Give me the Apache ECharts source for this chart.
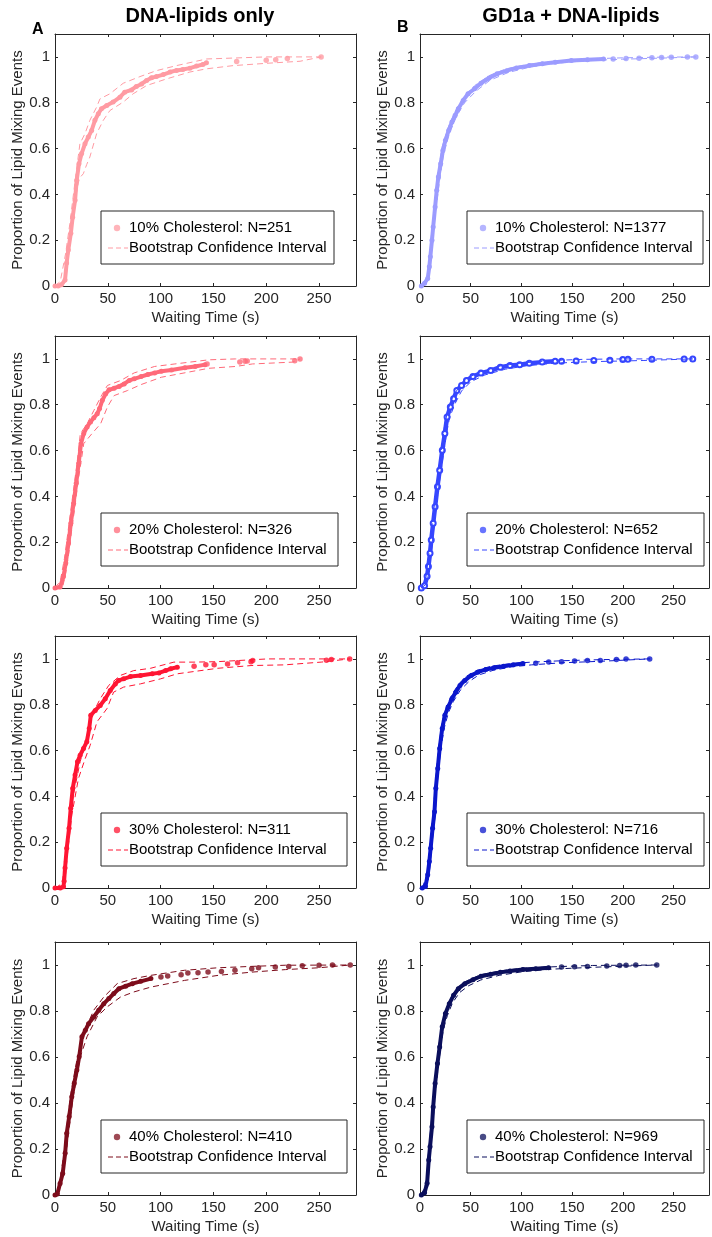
<!DOCTYPE html>
<html>
<head>
<meta charset="utf-8">
<title>Lipid mixing waiting times</title>
<script src="https://cdn.jsdelivr.net/npm/echarts@6/dist/echarts.min.js"></script>
<style>
  html, body { margin: 0; padding: 0; background: #fff; }
  #box { width: 712px; height: 1237px; }
</style>
</head>
<body>
<div id="box"></div>
<script>
var timeMax = 285;

// DNA-lipids only, 10% cholesterol (N=251)
var a10Curve = [[0,0],[3,0],[6,0.005],[9.5,0.026],[11,0.1],[12.6,0.157],[15,0.23],[16.7,0.3],[19,0.374],[20.5,0.46],[22.7,0.534],[25.2,0.578],[28.4,0.621],[31.5,0.65],[34.7,0.679],[37.8,0.723],[41,0.752],[44,0.774],[49,0.788],[55,0.803],[61.5,0.824],[66,0.846],[72.5,0.856],[77,0.871],[82,0.882],[86.7,0.897],[91.4,0.909],[96,0.914],[102.5,0.923],[109,0.934],[115,0.941],[121,0.945],[127.7,0.951],[134,0.96],[140,0.967],[143.4,0.974]];
var a10Tail = [[172,0.98],[200,0.985],[209,0.988],[220,0.993],[252,1.0]];
var a10Upper = [[0,0],[5,0.02],[10,0.14],[14,0.27],[18,0.42],[21,0.53],[23.6,0.621],[28.4,0.665],[33,0.723],[39.4,0.781],[42.6,0.817],[52,0.839],[64.6,0.885],[80.4,0.914],[96,0.94],[115,0.962],[143.4,0.991],[168.7,0.995],[200,1.0],[252,1.0]];
var a10Lower = [[0,0],[8,0],[11,0.06],[14,0.18],[17,0.3],[20,0.4],[23,0.47],[26.8,0.49],[30,0.53],[33,0.563],[39.4,0.665],[45.7,0.723],[52,0.766],[64.6,0.803],[74,0.839],[86.7,0.875],[105.6,0.904],[127.7,0.934],[143.4,0.948],[168.7,0.962],[200,0.972],[232,0.981],[252,1.0]];

// DNA-lipids only, 20% cholesterol (N=326)
var a20Curve = [[0,0],[4.8,0.004],[8,0.05],[10.2,0.109],[12.8,0.196],[15,0.283],[17.6,0.37],[20.1,0.457],[22.4,0.543],[24.6,0.63],[27.2,0.674],[30.4,0.703],[33.6,0.725],[36.8,0.743],[40,0.761],[42.2,0.783],[44.8,0.819],[48,0.848],[51.2,0.865],[56,0.872],[60.7,0.88],[65.5,0.891],[70.3,0.906],[75,0.913],[81.5,0.923],[87.9,0.932],[94.3,0.939],[100.7,0.946],[110.3,0.952],[123,0.961],[132.7,0.967],[142,0.975]];
var a20Tail = [[144,0.978],[175,0.986],[180,0.99],[182,0.991],[227,0.992],[232,1.0]];
var a20Upper = [[0,0],[5,0.03],[9,0.13],[13,0.27],[17,0.41],[21,0.55],[24,0.674],[30.4,0.717],[36.8,0.775],[43.2,0.833],[49.6,0.884],[62.3,0.906],[75,0.939],[94.3,0.967],[113.5,0.978],[145.5,0.996],[171,1.0],[232,1.0]];
var a20Lower = [[0,0],[7,0],[10,0.06],[13,0.15],[16,0.26],[19,0.36],[22,0.47],[25,0.56],[27.2,0.63],[35,0.674],[43.2,0.717],[49.6,0.79],[56,0.84],[68.7,0.862],[81.5,0.888],[100.7,0.92],[126,0.942],[145.5,0.959],[171,0.967],[187,0.978],[225,0.986],[232,1.0]];

// DNA-lipids only, 30% cholesterol (N=311)
var a30Curve = [[0,0],[5,0],[8,0.005],[8.6,0.029],[9.5,0.087],[11.1,0.174],[13.3,0.261],[14.9,0.348],[16.8,0.435],[19,0.493],[21.3,0.551],[23.8,0.58],[27,0.609],[30.1,0.638],[32.4,0.696],[33.9,0.754],[38.1,0.775],[42.8,0.797],[47.6,0.826],[52.3,0.862],[57.1,0.891],[60.3,0.906],[65,0.913],[71.4,0.923],[80.9,0.928],[92,0.935],[98.4,0.939],[104.7,0.949],[109.5,0.957],[115.8,0.964]];
var a30Tail = [[131.7,0.968],[142.8,0.974],[150.7,0.975],[163.4,0.978],[172.9,0.983],[185.6,0.988],[187.2,0.993],[257,0.994],[261.7,0.997],[279,1.0]];
var a30Upper = [[0,0],[7,0.02],[9,0.12],[12.7,0.275],[17.4,0.406],[23.8,0.551],[30.1,0.652],[34.9,0.754],[42.8,0.826],[50.8,0.884],[61.9,0.928],[74.6,0.949],[90.4,0.959],[112.6,0.986],[131.7,0.986],[153.9,0.988],[201.5,1.0],[279,1.0]];
var a30Lower = [[0,0],[8,0],[10,0.06],[12.5,0.18],[15.9,0.319],[22.2,0.478],[28.6,0.565],[33.3,0.623],[39.7,0.725],[49.2,0.783],[55.5,0.855],[65,0.877],[80.9,0.891],[100,0.913],[115.8,0.935],[153.9,0.959],[185.6,0.971],[217.3,0.974],[252,0.986],[279,1.0]];

// DNA-lipids only, 40% cholesterol (N=410)
var a40Curve = [[0,0],[2.2,0.004],[4.8,0.05],[7.3,0.094],[9.6,0.181],[11.1,0.268],[13.4,0.34],[15.9,0.427],[18.2,0.485],[20.7,0.543],[22.9,0.601],[25.5,0.688],[28.7,0.716],[31.8,0.745],[36.6,0.774],[41.4,0.803],[46.2,0.832],[51,0.854],[55.7,0.876],[60.5,0.897],[66.9,0.908],[73.2,0.919],[81.2,0.929],[90.8,0.941]];
var a40Tail = [[100.3,0.948],[106.7,0.952],[119.4,0.958],[125.8,0.965],[135.4,0.966],[144.9,0.97],[157.6,0.972],[170.4,0.977],[186.3,0.984],[192.7,0.988],[208.6,0.991],[221.3,0.994],[234.1,0.997],[250,0.999],[262.7,1.0],[279.6,1.0]];
var a40Upper = [[0,0],[3,0.03],[6,0.1],[9,0.2],[12,0.33],[15,0.44],[18,0.52],[20.7,0.586],[27,0.702],[36.6,0.803],[46.2,0.861],[58.9,0.919],[74.8,0.941],[90.8,0.955],[122.6,0.977],[154.5,0.988],[186.3,0.994],[218.2,0.999],[279.6,1.0]];
var a40Lower = [[0,0],[4,0.02],[8,0.1],[11,0.2],[14,0.31],[17,0.42],[20,0.5],[23.9,0.6],[30.3,0.688],[39.8,0.774],[49.4,0.818],[62.1,0.861],[74.8,0.883],[90.8,0.904],[122.6,0.933],[154.5,0.955],[186.3,0.969],[218.2,0.98],[250,0.988],[279.6,1.0]];

// GD1a + DNA-lipids, 10% cholesterol (N=1377)
var b10Curve = [[1.3,0],[4.5,0.012],[7.6,0.033],[9.2,0.084],[10.2,0.128],[11.8,0.2],[13,0.258],[14.9,0.345],[16.5,0.418],[18.1,0.476],[20.4,0.534],[22.6,0.592],[25.1,0.636],[28.3,0.679],[31.5,0.716],[34.7,0.745],[37.8,0.774],[42.6,0.81],[47.4,0.839],[53.8,0.861],[60.1,0.885],[68.1,0.908],[76,0.926],[85.6,0.94],[95.1,0.952],[107.8,0.962],[120.5,0.97],[133.3,0.977],[149.2,0.984],[165.1,0.988],[181,0.991]];
var b10Tail = [[190.5,0.991],[203.2,0.993],[216,0.994],[228.7,0.996],[238.2,0.997],[247.8,0.999],[263.7,1.0],[272,1.0]];
var b10Upper = [[1.3,0],[7,0.03],[9,0.1],[11,0.21],[13,0.29],[15,0.37],[18,0.5],[22,0.61],[28,0.695],[35,0.765],[43,0.825],[54,0.875],[68,0.918],[85,0.948],[107,0.968],[133,0.981],[165,0.991],[200,0.996],[240,0.999],[272,1.0]];
var b10Lower = [[1.3,0],[8,0.02],[10,0.09],[12.5,0.2],[15,0.31],[19,0.45],[23,0.57],[29,0.665],[36,0.74],[44,0.8],[55,0.85],[69,0.898],[87,0.932],[108,0.955],[133,0.972],[165,0.984],[200,0.99],[240,0.995],[272,1.0]];

// GD1a + DNA-lipids, 20% cholesterol (N=652)
var b20Curve = [[1.3,0],[4.5,0.01],[7,0.051],[8.3,0.094],[9.9,0.152],[11.1,0.21],[13,0.283],[14.9,0.355],[17.2,0.442],[19.4,0.514],[22,0.601],[24.5,0.674],[26.7,0.746],[29.9,0.79],[33.1,0.826],[36.3,0.862],[41,0.884],[45.8,0.906],[52.2,0.923],[60.1,0.938],[69.7,0.949],[79.2,0.964],[88.7,0.971],[98.3,0.975],[107.8,0.981],[120.5,0.986],[133.3,0.99]];
var b20Tail = [[139.6,0.99],[154,0.991],[171.4,0.993],[187.3,0.994],[200,0.997],[205,0.998],[228.7,0.998],[260.5,1.0],[269,1.0]];
var b20Upper = [[1.3,0],[6,0.05],[8,0.12],[10,0.2],[12.5,0.3],[15,0.39],[18,0.5],[21,0.6],[24,0.7],[27,0.77],[32,0.83],[38,0.875],[46,0.915],[60,0.945],[80,0.97],[100,0.982],[130,0.993],[160,0.998],[200,1.0],[269,1.0]];
var b20Lower = [[1.3,0],[7,0.02],[9,0.08],[11.5,0.17],[14,0.28],[17,0.39],[20,0.49],[23,0.58],[26,0.67],[29,0.74],[34,0.8],[41,0.86],[50,0.9],[64,0.93],[84,0.955],[105,0.97],[135,0.982],[170,0.988],[220,0.993],[269,1.0]];

// GD1a + DNA-lipids, 30% cholesterol (N=716)
var b30Curve = [[2.2,0],[5.4,0.007],[7.6,0.058],[9.2,0.116],[10.5,0.174],[12.4,0.261],[14.3,0.333],[15.6,0.435],[17.5,0.522],[19.4,0.609],[21.9,0.696],[24.5,0.754],[27.7,0.79],[31.5,0.826],[35.3,0.855],[39.4,0.884],[44.2,0.906],[50.6,0.928],[57,0.942],[64.9,0.954],[72.8,0.961],[82.4,0.968],[91.9,0.974],[101.5,0.98]];
var b30Tail = [[114.2,0.981],[126.9,0.986],[139.6,0.988],[152.4,0.991],[165.1,0.993],[177.8,0.993],[193.7,0.997],[203.2,1.0],[226.5,1.0]];
var b30Upper = [[2.2,0],[7,0.06],[9,0.14],[11,0.24],[13,0.33],[15,0.44],[17,0.55],[19.5,0.65],[22,0.73],[26,0.79],[31,0.84],[38,0.89],[46,0.925],[56,0.95],[70,0.968],[90,0.98],[110,0.986],[140,0.992],[180,0.997],[226.5,1.0]];
var b30Lower = [[2.2,0],[8,0.03],[10,0.1],[12,0.2],[14.5,0.3],[16.5,0.43],[18.5,0.53],[21,0.62],[24,0.7],[28,0.765],[33,0.815],[40,0.865],[48,0.9],[58,0.93],[72,0.95],[90,0.965],[110,0.974],[140,0.983],[180,0.99],[226.5,1.0]];

// GD1a + DNA-lipids, 40% cholesterol (N=969)
var b40Curve = [[1.3,0],[4.5,0.01],[7,0.051],[8.6,0.152],[9.9,0.21],[11.8,0.297],[13,0.383],[14.9,0.485],[17.2,0.572],[19.4,0.644],[21.9,0.731],[25.1,0.789],[28.9,0.832],[33.1,0.868],[37.8,0.897],[44.2,0.919],[52.2,0.936],[60.1,0.951],[69.7,0.96],[79.2,0.968],[88.7,0.974],[101.5,0.98],[114.2,0.984],[126.9,0.988]];
var b40Tail = [[139.6,0.991],[152.4,0.992],[165.1,0.994],[184.2,0.996],[196.9,0.998],[203.2,0.999],[212.8,1.0],[233.5,1.0]];
var b40Upper = [[1.3,0],[6,0.05],[8,0.16],[10,0.26],[12,0.36],[14,0.47],[16.5,0.57],[19,0.66],[22,0.75],[26,0.81],[31,0.86],[38,0.905],[47,0.933],[60,0.958],[80,0.975],[100,0.985],[130,0.992],[170,0.998],[233.5,1.0]];
var b40Lower = [[1.3,0],[7.5,0.03],[9,0.12],[11,0.22],[13,0.33],[15,0.44],[17.5,0.54],[20,0.63],[23,0.72],[27,0.78],[32,0.835],[39,0.88],[48,0.91],[60,0.935],[78,0.955],[100,0.97],[130,0.982],[170,0.99],[233.5,1.0]];

// panel order: column A (10..40%), then column B (10..40%)
var panelLabels = ["10% Cholesterol: N=251", "20% Cholesterol: N=326", "30% Cholesterol: N=311", "40% Cholesterol: N=410",
  "10% Cholesterol: N=1377", "20% Cholesterol: N=652", "30% Cholesterol: N=716", "40% Cholesterol: N=969"];
var panelCurves = [a10Curve, a20Curve, a30Curve, a40Curve, b10Curve, b20Curve, b30Curve, b40Curve];
var panelTails = [a10Tail, a20Tail, a30Tail, a40Tail, b10Tail, b20Tail, b30Tail, b40Tail];
var panelUpper = [a10Upper, a20Upper, a30Upper, a40Upper, b10Upper, b20Upper, b30Upper, b40Upper];
var panelLower = [a10Lower, a20Lower, a30Lower, a40Lower, b10Lower, b20Lower, b30Lower, b40Lower];
var columnTitles = ["DNA-lipids only", "GD1a + DNA-lipids"];

var panelColors = ["#ff9ba3", "#ff6a79", "#ff1533", "#7d0c1b", "#9c9cff", "#3646ff", "#0b17cc", "#0b0f5c"];
var ink = "#262626";
var fontFamily = '"Liberation Sans", Arial, sans-serif';

// layout (px)
var rowTop = [34, 336, 636, 942];
var rowHeight = [252, 252, 252, 253];
var colLeft = [55, 420];
var colWidth = [301, 299];
var legendLeft = [101, 467];
var legendWidth = [233, 237, 246, 246, 236, 237, 237, 237];

var chart = echarts.init(document.getElementById("box"));

function makeAxis(g, pos) {
  var isX = pos == "bottom" || pos == "top";
  var main = pos == "bottom" || pos == "left";
  var axis = {
    gridIndex: g,
    type: "value",
    position: pos,
    min: 0,
    max: isX ? timeMax : 1.1,
    interval: isX ? 50 : 0.2,
    axisLine: { show: true, onZero: false, lineStyle: { color: ink, width: 1 } },
    axisTick: { show: true, inside: true, length: 3, lineStyle: { color: ink } },
    splitLine: { show: false },
    axisLabel: {
      show: main,
      margin: 5,
      fontSize: 15,
      color: ink,
      fontFamily: fontFamily,
      formatter: function (v) {
        if (isX) return v % 50 == 0 ? String(v) : "";
        var k = v * 5;
        return Math.abs(k - Math.round(k)) < 1e-6 ? String(+v.toFixed(1)) : "";
      },
    },
  };
  if (main) {
    axis.name = isX ? "Waiting Time (s)" : "Proportion of Lipid Mixing Events";
    axis.nameLocation = "middle";
    axis.nameGap = isX ? 24 : 21;
    axis.nameTextStyle = { fontSize: 15, color: ink, fontFamily: fontFamily };
  }
  return axis;
}

var grid = [], xAxis = [], yAxis = [], series = [], graphic = [];

for (var i = 0; i < 8; i++) {
  var col = Math.floor(i / 4);
  var row = i % 4;
  var color = panelColors[i];
  var hollow = i == 5; // 20% GD1a panel uses open circles
  grid.push({ left: colLeft[col], top: rowTop[row], width: colWidth[col], height: rowHeight[row] });
  xAxis.push(makeAxis(i, "bottom"), makeAxis(i, "top"));
  yAxis.push(makeAxis(i, "left"), makeAxis(i, "right"));

  // bootstrap confidence interval
  [panelLower[i], panelUpper[i]].forEach(function (d) {
    series.push({
      type: "line",
      xAxisIndex: 2 * i,
      yAxisIndex: 2 * i,
      data: d,
      symbol: "none",
      silent: true,
      lineStyle: { color: color, width: 1, type: [6, 4] },
      z: 4,
    });
  });

  // dense part of the empirical CDF
  series.push({
    type: "line",
    xAxisIndex: 2 * i,
    yAxisIndex: 2 * i,
    data: panelCurves[i],
    symbol: hollow ? "emptyCircle" : "circle",
    symbolSize: 5,
    showAllSymbol: true,
    lineStyle: { color: color, width: hollow ? 4.5 : 4 },
    itemStyle: { color: color, borderWidth: hollow ? 1 : 0 },
    z: 2,
  });
  // sparse tail events
  series.push({
    type: "scatter",
    xAxisIndex: 2 * i,
    yAxisIndex: 2 * i,
    data: panelTails[i],
    symbol: hollow ? "emptyCircle" : "circle",
    symbolSize: hollow ? 5 : 5.5,
    itemStyle: { color: color, opacity: hollow ? 1 : 0.8, borderWidth: hollow ? 1 : 0 },
    z: 3,
  });

  // legend box
  var ly = rowTop[row] + rowHeight[row] - 75;
  graphic.push({
    type: "group",
    x: legendLeft[col],
    y: ly,
    z: 10,
    children: [
      { type: "rect", shape: { x: 0, y: 0, width: legendWidth[i], height: 53 }, style: { fill: "#fff", stroke: ink, lineWidth: 1 } },
      { type: "circle", shape: { cx: 16, cy: 17, r: 3.2 }, style: { fill: color, opacity: 0.75 } },
      { type: "line", shape: { x1: 7, y1: 37, x2: 27, y2: 37 }, style: { stroke: color, lineWidth: 1, lineDash: [5, 3] } },
      { type: "text", x: 28, y: 17, style: { text: panelLabels[i], fill: "#000", font: "15px " + fontFamily, verticalAlign: "middle" } },
      { type: "text", x: 28, y: 37, style: { text: "Bootstrap Confidence Interval", fill: "#000", font: "15px " + fontFamily, verticalAlign: "middle" } },
    ],
  });
}

// column titles and panel letters
graphic.push(
  { type: "text", x: 200, y: 16.5, style: { text: columnTitles[0], fill: "#000", font: "bold 20px " + fontFamily, align: "center", verticalAlign: "middle" } },
  { type: "text", x: 571, y: 16.5, style: { text: columnTitles[1], fill: "#000", font: "bold 20px " + fontFamily, align: "center", verticalAlign: "middle" } },
  { type: "text", x: 32, y: 29.5, style: { text: "A", fill: "#000", font: "bold 16px " + fontFamily, verticalAlign: "middle" } },
  { type: "text", x: 397, y: 27.5, style: { text: "B", fill: "#000", font: "bold 16px " + fontFamily, verticalAlign: "middle" } }
);

chart.setOption({
  backgroundColor: "#fff",
  animation: false,
  grid: grid,
  xAxis: xAxis,
  yAxis: yAxis,
  series: series,
  graphic: graphic,
});
</script>
</body>
</html>
